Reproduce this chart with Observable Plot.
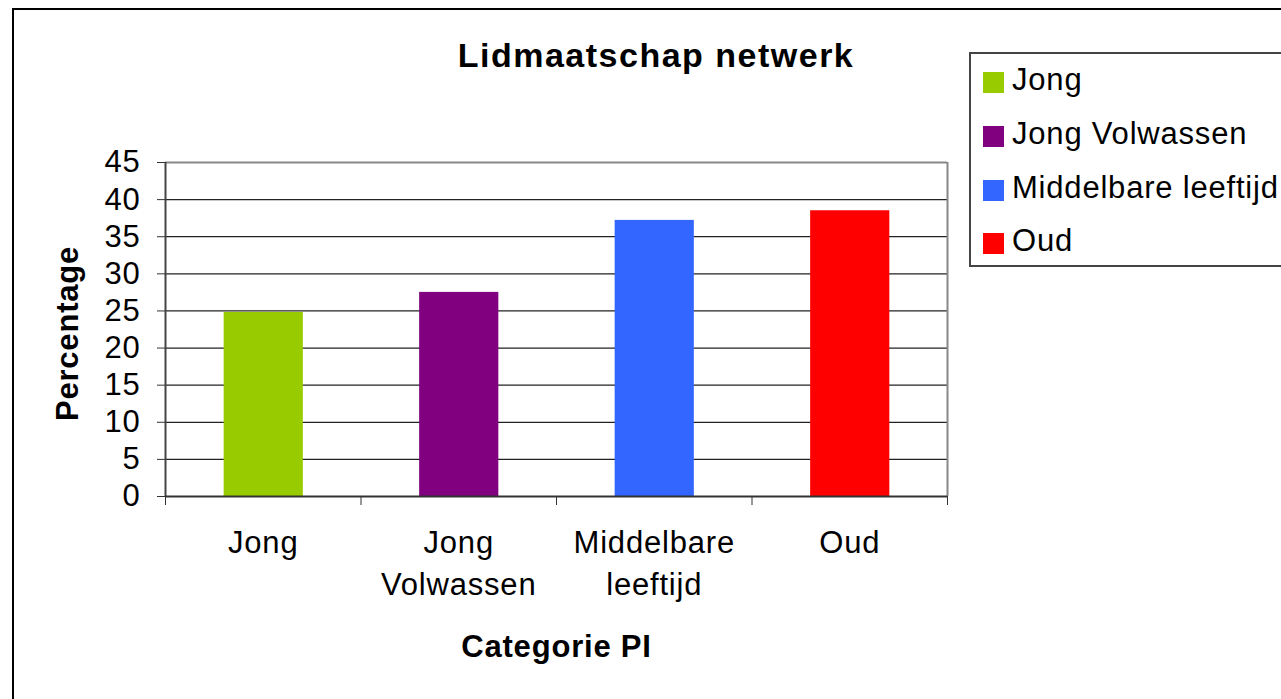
<!DOCTYPE html>
<html>
<head>
<meta charset="utf-8">
<script src="https://cdn.jsdelivr.net/npm/d3@7"></script>
<script src="https://cdn.jsdelivr.net/npm/@observablehq/plot@0.6"></script>
<style>
  body { margin: 0; background: #fff; font-family: "Liberation Sans", Arial, sans-serif; }
  #wrap { position: relative; width: 1281px; height: 699px; overflow: hidden; background: #fff; }
  #plot { position: absolute; left: 0; top: 0; }
  #plot svg text { letter-spacing: 0.8px; }
  #plot svg text.bold-title { letter-spacing: 1.4px; }
  #outer { position: absolute; left: 12px; top: 8px; width: 1400px; height: 800px; border: 2px solid #000; box-sizing: border-box; pointer-events: none; }
  #title { position: absolute; left: 356px; top: 38px; width: 600px; text-align: center; font-weight: bold; font-size: 34px; line-height: 1; letter-spacing: 1.5px; color: #000; }
  #legend { position: absolute; left: 969px; top: 52px; width: 400px; height: 215px; border: 2px solid #444; box-sizing: border-box; background: #fff; padding-top: 2px; }
  .row { display: flex; align-items: center; height: 53.7px; padding-left: 12px; }
  .sw { width: 21px; height: 21px; margin-right: 8px; flex: none; }
  .lab { font-size: 31px; line-height: 1; letter-spacing: 0.8px; position: relative; top: -3px; color: #000; white-space: nowrap; }
</style>
</head>
<body>
<div id="wrap">
  <div id="plot"></div>
  <div id="title"></div>
  <div id="legend"></div>
  <div id="outer"></div>
</div>
<script>
// ---- data ----
const chartTitle = "Lidmaatschap netwerk";
const categories = ["Jong", "Jong Volwassen", "Middelbare leeftijd", "Oud"];
const axisLabels = ["Jong", "Jong\nVolwassen", "Middelbare\nleeftijd", "Oud"];
const values = [24.8, 27.5, 37.2, 38.5];
const colors = ["#99CC00", "#800080", "#3366FF", "#FF0000"];
const yTicks = [0, 5, 10, 15, 20, 25, 30, 35, 40, 45];
const xTitle = "Categorie PI";
const yTitle = "Percentage";

const data = categories.map((c, i) => ({ category: c, label: axisLabels[i], value: values[i], index: i }));

document.getElementById("title").textContent = chartTitle;

const legend = document.getElementById("legend");
categories.forEach((c, i) => {
  const row = document.createElement("div");
  row.className = "row";
  const sw = document.createElement("div");
  sw.className = "sw";
  sw.style.background = colors[i];
  const lab = document.createElement("span");
  lab.className = "lab";
  lab.textContent = c;
  row.appendChild(sw);
  row.appendChild(lab);
  legend.appendChild(row);
});

const chart = Plot.plot({
  width: 1281,
  height: 699,
  marginLeft: 165,
  marginRight: 334,
  marginTop: 162,
  marginBottom: 203,
  style: { fontFamily: "'Liberation Sans', Arial, sans-serif", fontSize: "31px", color: "#000", background: "transparent" },
  x: { domain: [0, categories.length], axis: null },
  y: { domain: [0, 45], axis: null },
  color: { domain: categories, range: colors },
  marks: [
    Plot.ruleY(yTicks.filter(t => t > 0 && t < 45), { stroke: "#222", strokeWidth: 1.3 }),
    Plot.rectY(data, {
      x1: d => d.index + 0.3,
      x2: d => d.index + 0.705,
      y1: 0,
      y2: "value",
      fill: "category"
    }),
    Plot.ruleY([45], { stroke: "#888", strokeWidth: 2 }),
    Plot.ruleX([categories.length], { stroke: "#888", strokeWidth: 2 }),
    Plot.ruleX([0], { stroke: "#444", strokeWidth: 2 }),
    Plot.ruleY([0], { stroke: "#333", strokeWidth: 2 }),
    Plot.axisY({ ticks: yTicks, tickSize: 8, tickPadding: 17, fontSize: 31, label: null, stroke: "#333" }),
    Plot.axisX({ ticks: d3.range(categories.length + 1), tickSize: 9, tickFormat: () => "", label: null, stroke: "#333" }),
    Plot.text(data, {
      x: d => d.index + 0.5,
      frameAnchor: "bottom",
      text: "label",
      textAnchor: "middle",
      lineAnchor: "top",
      lineHeight: 1.355,
      dy: 27,
      fontSize: 31,
      fill: "#000"
    }),
    Plot.text([xTitle], {
      frameAnchor: "bottom",
      text: d => d,
      textAnchor: "middle",
      lineAnchor: "top",
      dy: 138,
      fontSize: 31,
      fontWeight: "bold",
      fill: "#000",
      className: "bold-title"
    }),
    Plot.text([yTitle], {
      frameAnchor: "left",
      text: d => d,
      textAnchor: "middle",
      rotate: -90,
      dx: -97,
      dy: 4,
      lineAnchor: "middle",
      fontSize: 31,
      fontWeight: "bold",
      fill: "#000"
    })
  ]
});
document.getElementById("plot").appendChild(chart);
</script>
</body>
</html>
